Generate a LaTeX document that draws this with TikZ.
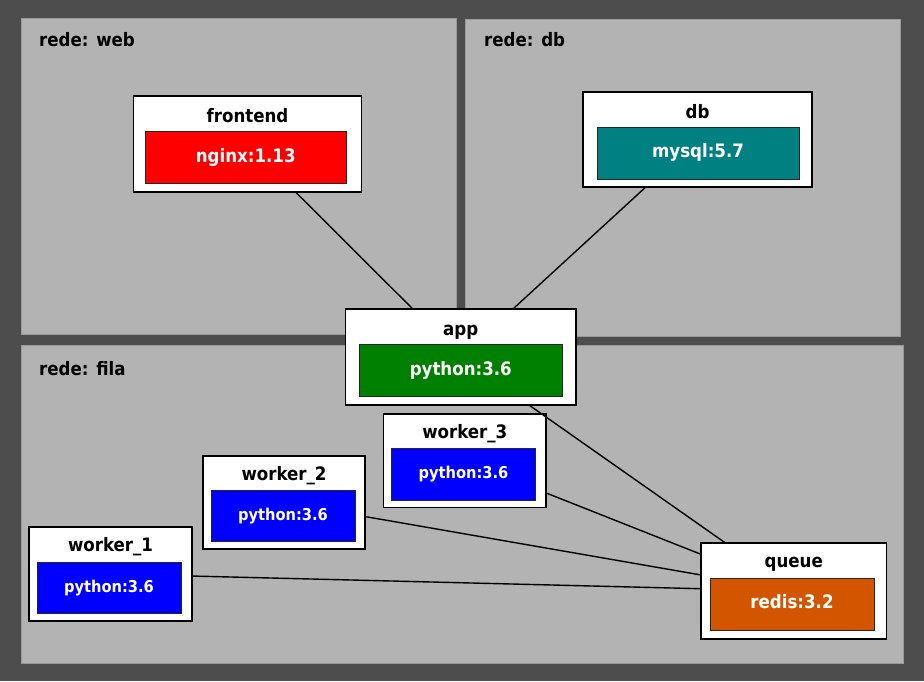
\documentclass[tikz,border=0pt]{standalone}
\usepackage{fontspec}
\newfontfamily\lbl{DejaVu Sans Condensed Bold}
\definecolor{bggray}{HTML}{4D4D4D}
\definecolor{panelgray}{HTML}{B3B3B3}
\definecolor{panelline}{HTML}{999999}
\definecolor{cred}{HTML}{FF0000}
\definecolor{cteal}{HTML}{008080}
\definecolor{cgreen}{HTML}{008000}
\definecolor{cblue}{HTML}{0000FF}
\definecolor{corange}{HTML}{D45500}
\begin{document}
\begin{tikzpicture}[x=1pt,y=-1pt,
  panel/.style={fill=panelgray, draw=panelline, line width=0.8pt},
  outerbox/.style={draw=black, fill=white, line width=1.3pt, inner sep=0pt},
  innerbox/.style={draw=black!85, line width=0.9pt, inner sep=0pt, text=white,
     font=\lbl\fontsize{18.5}{20}\selectfont, text height=0.92em, text depth=0pt},
  smallinner/.style={innerbox, font=\lbl\fontsize{16.3}{18}\selectfont},
  title/.style={font=\lbl\fontsize{18.5}{20}\selectfont, text=black, inner sep=0pt, anchor=base},
  netlabel/.style={font=\lbl\fontsize{18.5}{20}\selectfont, text=black, inner sep=0pt, anchor=base west},
  edge/.style={line width=1.4pt, draw=black}]
\fill[bggray] (0,0) rectangle (924,681);
\useasboundingbox (0,0) rectangle (924,681);
% panels
\draw[panel] (21,18) rectangle (456,334);
\draw[panel] (465,19) rectangle (900,336);
\draw[panel] (21,345) rectangle (903,663);
\node[netlabel] (lweb) at (39,46) {rede: web};
\node[netlabel] (ldb) at (484,46) {rede: db};
\node[netlabel] (lfila) at (39,375) {rede: fila};
% outer boxes
\node[outerbox, minimum width=228pt, minimum height=96pt] (frontend) at (247.5,144) {};
\node[outerbox, minimum width=229pt, minimum height=95pt] (db) at (697.5,139.5) {};
\node[outerbox, minimum width=230.5pt, minimum height=96pt] (app) at (460.75,357) {};
\node[outerbox, minimum width=162.5pt, minimum height=93.5pt] (worker3) at (464.75,460.75) {};
\node[outerbox, minimum width=162pt, minimum height=93pt] (worker2) at (284,502.5) {};
\node[outerbox, minimum width=163pt, minimum height=94pt] (worker1) at (110.5,574) {};
\node[outerbox, minimum width=185.5pt, minimum height=96pt] (queue) at (793.75,591) {};
% edges
\draw[edge] (frontend) -- (app);
\draw[edge] (db) -- (app);
\draw[edge] (app) -- (queue);
\draw[edge] (worker3) -- (queue);
\draw[edge] (worker2) -- (queue);
\draw[edge] (worker1) -- (queue);
% titles
\node[title] (tfrontend) at (247.5,122) {frontend};
\node[title] (tdb) at (697.5,118) {db};
\node[title] (tapp) at (460.75,335) {app};
\node[title] (tworker3) at (464.75,438.5) {worker\_3};
\node[title] (tworker2) at (284,480) {worker\_2};
\node[title] (tworker1) at (110.5,551.5) {worker\_1};
\node[title] (tqueue) at (793.75,567.5) {queue};
% inner boxes
\node[innerbox, fill=cred, minimum width=201.5pt, minimum height=52pt] (ifrontend) at (245.75,157.5) {nginx:1.13};
\node[innerbox, fill=cteal, minimum width=202pt, minimum height=52pt] (idb) at (698,153) {mysql:5.7};
\node[innerbox, fill=cgreen, minimum width=202.5pt, minimum height=52pt] (iapp) at (460.75,370.5) {python:3.6};
\node[smallinner, fill=cblue, minimum width=144pt, minimum height=51.5pt] (iworker3) at (463.5,474.25) {python:3.6};
\node[smallinner, fill=cblue, minimum width=144pt, minimum height=51pt] (iworker2) at (283,515.5) {python:3.6};
\node[smallinner, fill=cblue, minimum width=144pt, minimum height=51pt] (iworker1) at (109,587.5) {python:3.6};
\node[innerbox, fill=corange, minimum width=164pt, minimum height=51.5pt] (iqueue) at (792,604.25) {redis:3.2};
\end{tikzpicture}
\end{document}
